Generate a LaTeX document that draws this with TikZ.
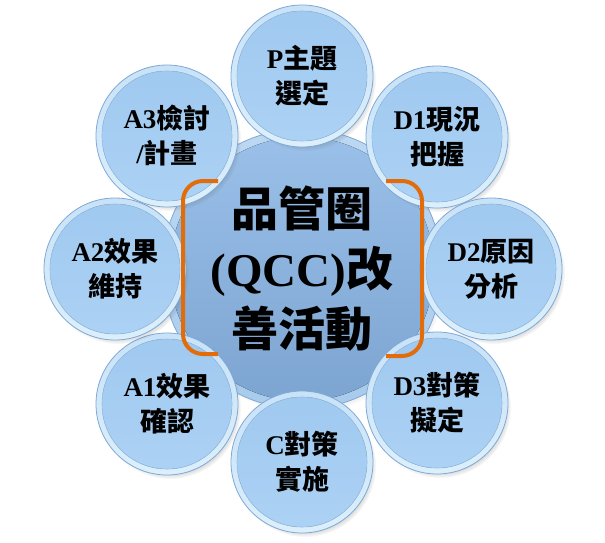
\documentclass[tikz,border=0pt]{standalone}
\usepackage{fontspec}
\setmainfont{Liberation Serif}
\newfontfamily\cjk{Noto Sans CJK TC}
\usetikzlibrary{shadows,fadings}
\definecolor{rimtop}{HTML}{C8E2F8}
\definecolor{rimbot}{HTML}{DCEFFB}
\definecolor{facetop}{HTML}{A0C9F0}
\definecolor{facebot}{HTML}{ACD2F4}
\definecolor{edgeblue}{HTML}{7FA8D5}
\definecolor{faceline}{HTML}{98C0E7}
\definecolor{ctrrimtop}{HTML}{BCD8F1}
\definecolor{ctrrimbot}{HTML}{A9CBEC}
\definecolor{ctrtop}{HTML}{9BC1EA}
\definecolor{ctrbot}{HTML}{7CA4D0}
\definecolor{bracketorange}{HTML}{E36C0A}
\newcommand{\cj}[1]{{\cjk #1}}
\tikzset{
  bubble/.style={circle, minimum size=142pt, inner sep=0pt, align=center,
    font=\fontsize{27}{35}\selectfont\bfseries,
    top color=rimtop, bottom color=rimbot, draw=edgeblue, line width=0.8pt,
    drop shadow={shadow xshift=3pt, shadow yshift=-4pt, opacity=0.45, fill=black!60,
      path fading={circle with fuzzy edge 15 percent}},
    path picture={
      \fill[top color=facetop, bottom color=facebot]
        (path picture bounding box.center) circle[radius=65pt];
      \draw[faceline, line width=0.6pt]
        (path picture bounding box.center) circle[radius=65pt];
    }},
  hub/.style={circle, minimum size=280pt, inner sep=0pt, align=center,
    font=\fontsize{47}{60}\selectfont\bfseries,
    top color=ctrrimtop, bottom color=ctrrimbot, draw=edgeblue, line width=0.8pt,
    drop shadow={shadow xshift=3pt, shadow yshift=-4pt, opacity=0.4, fill=black!60,
      path fading={circle with fuzzy edge 15 percent}},
    path picture={
      \fill[top color=ctrtop, bottom color=ctrbot]
        (path picture bounding box.center) circle[radius=132pt];
    }},
  bracketline/.style={draw=bracketorange, line width=4pt, rounded corners=20pt}
}
\begin{document}
\begin{tikzpicture}[x=1pt,y=-1pt]
\useasboundingbox (0,0) rectangle (605,543);
\fill[white] (0,0) rectangle (605,543);
\node[hub] (hub) at (302,269) {\cj{品管圈}\\(QCC)\cj{改}\\\cj{善活動}};
\node[bubble] (p)  at (302,76)  {P\cj{主題}\\\cj{選定}};
\node[bubble] (d1) at (437,137) {D1\cj{現況}\\\cj{把握}};
\node[bubble] (d2) at (491,269) {D2\cj{原因}\\\cj{分析}};
\node[bubble] (d3) at (437,403) {D3\cj{對策}\\\cj{擬定}};
\node[bubble] (c)  at (302,462) {C\cj{對策}\\\cj{實施}};
\node[bubble] (a1) at (167,404) {A1\cj{效果}\\\cj{確認}};
\node[bubble] (a2) at (115,269) {A2\cj{效果}\\\cj{維持}};
\node[bubble] (a3) at (167,136) {A3\cj{檢討}\\/\cj{計畫}};
\draw[bracketline] (218,181) -- (183,181) -- (183,354) -- (218,354);
\draw[bracketline] (386,181) -- (422,181) -- (422,356) -- (386,356);
\end{tikzpicture}
\end{document}
